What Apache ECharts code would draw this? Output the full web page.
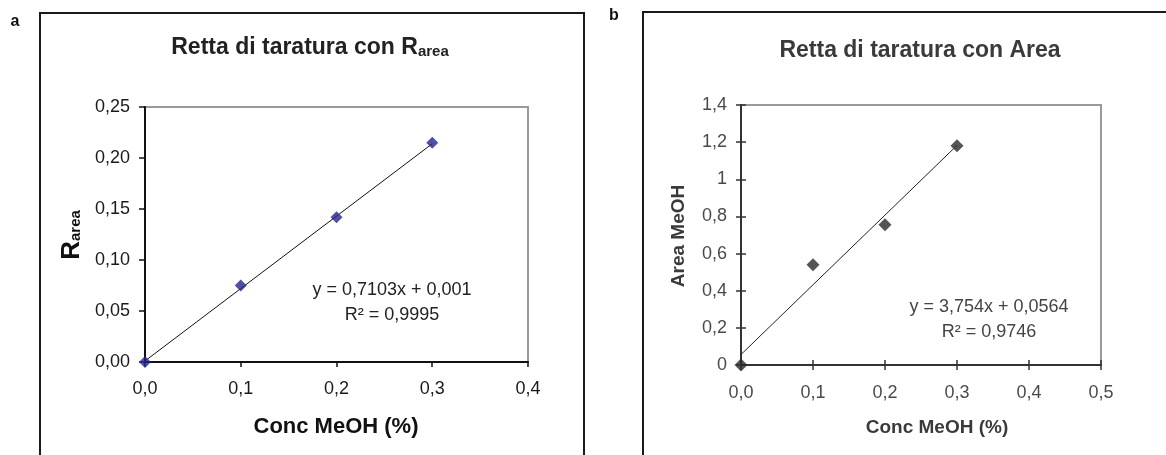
<!DOCTYPE html>
<html>
<head>
<meta charset="utf-8">
<script src="https://cdn.jsdelivr.net/npm/echarts@6/dist/echarts.min.js"></script>
<style>
html,body{margin:0;padding:0;background:#fff;}
#c{width:1166px;height:455px;}
</style>
</head>
<body>
<div id="c"></div>
<script>
// Panel a: Retta di taratura con R_area
const concA = [0.0, 0.1, 0.2, 0.3];
const rArea = [0.0, 0.075, 0.142, 0.215];
const trendA = [[0.0, 0.001], [0.3, 0.214]];
const xTicksA = ['0,0', '0,1', '0,2', '0,3', '0,4'];
const yTicksA = ['0,00', '0,05', '0,10', '0,15', '0,20', '0,25'];

// Panel b: Retta di taratura con Area
const concB = [0.0, 0.1, 0.2, 0.3];
const areaMeOH = [0.0, 0.54, 0.755, 1.18];
const trendB = [[0.0, 0.0564], [0.3, 1.1826]];
const xTicksB = ['0,0', '0,1', '0,2', '0,3', '0,4', '0,5'];
const yTicksB = ['0', '0,2', '0,4', '0,6', '0,8', '1', '1,2', '1,4'];

const FONT = '"Liberation Sans", Arial, sans-serif';
const chart = echarts.init(document.getElementById('c'), null, {renderer: 'canvas'});

function fmt(list, min, step) {
  return function (v) { const i = Math.round((v - min) / step); return list[i] !== undefined ? list[i] : ''; };
}

const option = {
  animation: false,
  backgroundColor: '#fff',
  grid: [
    {left: 145, top: 107, width: 383, height: 255, show: true, borderColor: '#9a9a9a', borderWidth: 2, backgroundColor: 'transparent'},
    {left: 741, top: 105, width: 360, height: 260, show: true, borderColor: '#9a9a9a', borderWidth: 2, backgroundColor: 'transparent'}
  ],
  xAxis: [
    {gridIndex: 0, type: 'value', min: 0, max: 0.4, interval: 0.1,
     axisLine: {show: true, onZero: false, lineStyle: {color: '#111', width: 2}},
     axisTick: {show: true, inside: false, length: 5, lineStyle: {color: '#111', width: 1.5}},
     splitLine: {show: false},
     axisLabel: {show: true, margin: 18, color: '#1a1a1a', fontFamily: FONT, fontSize: 18, formatter: fmt(xTicksA, 0, 0.1)}},
    {gridIndex: 1, type: 'value', min: 0, max: 0.5, interval: 0.1,
     axisLine: {show: true, onZero: false, lineStyle: {color: '#333', width: 2}},
     axisTick: {show: true, inside: false, length: 5, lineStyle: {color: '#333', width: 1.5}},
     splitLine: {show: false},
     axisLabel: {show: true, margin: 19, color: '#4a4a4a', fontFamily: FONT, fontSize: 18, formatter: fmt(xTicksB, 0, 0.1)}},
    {gridIndex: 1, type: 'value', min: 0, max: 0.5, interval: 0.1,
     axisLine: {show: false}, axisTick: {show: true, inside: true, length: 5, lineStyle: {color: '#333', width: 1.5}},
     splitLine: {show: false}, axisLabel: {show: false}, position: 'bottom'}
  ],
  yAxis: [
    {gridIndex: 0, type: 'value', min: 0, max: 0.25, interval: 0.05,
     axisLine: {show: true, onZero: false, lineStyle: {color: '#111', width: 2}},
     axisTick: {show: true, inside: false, length: 6, lineStyle: {color: '#111', width: 1.5}},
     splitLine: {show: false},
     axisLabel: {show: true, margin: 15, color: '#1a1a1a', fontFamily: FONT, fontSize: 18, formatter: fmt(yTicksA, 0, 0.05)}},
    {gridIndex: 1, type: 'value', min: 0, max: 1.4, interval: 0.2,
     axisLine: {show: true, onZero: false, lineStyle: {color: '#333', width: 2}},
     axisTick: {show: true, inside: false, length: 5, lineStyle: {color: '#333', width: 1.5}},
     splitLine: {show: false},
     axisLabel: {show: true, margin: 14, color: '#4a4a4a', fontFamily: FONT, fontSize: 18, formatter: fmt(yTicksB, 0, 0.2)}},
    {gridIndex: 1, type: 'value', min: 0, max: 1.4, interval: 0.2, position: 'left',
     axisLine: {show: false}, axisTick: {show: true, inside: true, length: 5, lineStyle: {color: '#333', width: 1.5}},
     splitLine: {show: false}, axisLabel: {show: false}}
  ],
  series: [
    {type: 'line', xAxisIndex: 0, yAxisIndex: 0, data: trendA, symbol: 'none', lineStyle: {color: '#111', width: 1}, z: 2},
    {type: 'scatter', xAxisIndex: 0, yAxisIndex: 0, data: concA.map((x, i) => [x, rArea[i]]),
     symbol: 'diamond', symbolSize: 12, itemStyle: {color: '#23238c'}, z: 3},
    {type: 'line', xAxisIndex: 1, yAxisIndex: 1, data: trendB, symbol: 'none', lineStyle: {color: '#222', width: 1}, z: 2},
    {type: 'scatter', xAxisIndex: 1, yAxisIndex: 1, data: concB.map((x, i) => [x, areaMeOH[i]]),
     symbol: 'diamond', symbolSize: 13, itemStyle: {color: '#2b2b2b'}, z: 3}
  ],
  graphic: [
    // panel frames
    {type: 'polyline', shape: {points: [[40, 460], [40, 13], [584, 13], [584, 460]]}, style: {stroke: '#1a1a1a', lineWidth: 2, fill: null}},
    {type: 'polyline', shape: {points: [[643, 460], [643, 12], [1170, 12]]}, style: {stroke: '#1a1a1a', lineWidth: 2, fill: null}},
    // panel letters
    {type: 'text', x: 15, y: 22, style: {text: 'a', align: 'center', verticalAlign: 'middle', font: 'bold 16px ' + FONT, fill: '#111'}},
    {type: 'text', x: 614, y: 16, style: {text: 'b', align: 'center', verticalAlign: 'middle', font: 'bold 16px ' + FONT, fill: '#111'}},
    // titles
    {type: 'text', x: 310, y: 48, style: {text: '{t|Retta di taratura con R}{s|area}', align: 'center', verticalAlign: 'middle',
      rich: {t: {fontFamily: FONT, fontSize: 23, fontWeight: 'bold', fill: '#222'}, s: {fontFamily: FONT, fontSize: 15, fontWeight: 'bold', fill: '#222', padding: [7, 0, 0, 0]}}}},
    {type: 'text', x: 920, y: 51, style: {text: 'Retta di taratura con Area', align: 'center', verticalAlign: 'middle', font: 'bold 23px ' + FONT, fill: '#3a3a3a'}},
    // y axis names
    {type: 'text', x: 72, y: 235, rotation: Math.PI / 2, style: {text: '{r|R}{s|area}', align: 'center', verticalAlign: 'middle',
      rich: {r: {fontFamily: FONT, fontSize: 26, fontWeight: 'bold', fill: '#111'}, s: {fontFamily: FONT, fontSize: 15, fontWeight: 'bold', fill: '#111', padding: [8, 0, 0, 0]}}}},
    {type: 'text', x: 679, y: 236, rotation: Math.PI / 2, style: {text: 'Area MeOH', align: 'center', verticalAlign: 'middle', font: 'bold 19px ' + FONT, fill: '#3a3a3a'}},
    // x axis names
    {type: 'text', x: 336, y: 427, style: {text: 'Conc MeOH (%)', align: 'center', verticalAlign: 'middle', font: 'bold 22px ' + FONT, fill: '#111'}},
    {type: 'text', x: 937, y: 428, style: {text: 'Conc MeOH (%)', align: 'center', verticalAlign: 'middle', font: 'bold 19px ' + FONT, fill: '#3a3a3a'}},
    // regression equations
    {type: 'text', x: 392, y: 303, style: {text: 'y = 0,7103x + 0,001\nR² = 0,9995', align: 'center', verticalAlign: 'middle', font: '18px ' + FONT, fill: '#222', lineHeight: 25}},
    {type: 'text', x: 989, y: 320, style: {text: 'y = 3,754x + 0,0564\nR² = 0,9746', align: 'center', verticalAlign: 'middle', font: '18px ' + FONT, fill: '#444', lineHeight: 25}}
  ]
};
chart.setOption(option);
</script>
</body>
</html>
